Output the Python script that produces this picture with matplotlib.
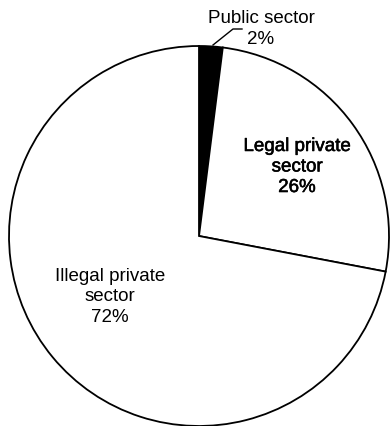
import matplotlib
matplotlib.use('Agg')
import matplotlib.pyplot as plt
import matplotlib.patheffects as pe

# Data
labels = ['Public sector', 'Legal private\nsector', 'Illegal private\nsector']
shares = [2, 26, 72]
colors = ['black', 'white', 'white']

plt.rcParams['font.family'] = ['Liberation Sans', 'DejaVu Sans']

fig = plt.figure(figsize=(3.90, 4.27), dpi=100)
ax = fig.add_axes([0, 0, 1, 1])

# pixel -> data helper (centre of pie at px (199, 237), radius 190 px)
cx, cy, R = 199, 237, 190
def p(px, py):
    return ((px - cx) / R, (cy - py) / R)

ax.pie(shares, colors=colors, startangle=90, counterclock=False, radius=1,
       wedgeprops=dict(edgecolor='black', linewidth=1.3))

ax.set_xlim(p(0, 0)[0], p(390, 0)[0])
ax.set_ylim(p(0, 427)[1], p(0, 0)[1])
ax.set_aspect('equal')
ax.axis('off')

fs = 13.5
ls = 1.27
ax.text(*p(297, 168), f'{labels[1]}\n{shares[1]}%', ha='center', va='center',
        fontsize=fs, linespacing=ls,
        path_effects=[pe.withStroke(linewidth=0.4, foreground='black')])
ax.text(*p(110, 297), f'{labels[2]}\n{shares[2]}%', ha='center', va='center',
        fontsize=fs, linespacing=ls)
ax.text(*p(261, 29), f'{labels[0]}\n{shares[0]}%', ha='center', va='center',
        fontsize=fs, linespacing=ls)

# leader line for the small slice
xs, ys = zip(p(213, 46), p(233, 30), p(242, 30))
ax.plot(xs, ys, color='black', linewidth=1)

fig.savefig('out.png', dpi=100, facecolor='white')
